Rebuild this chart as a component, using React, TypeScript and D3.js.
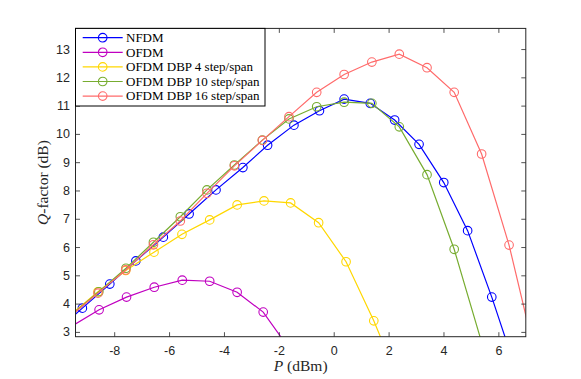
import { useRef, useEffect } from "react";
import { select, axisBottom, axisLeft, axisTop, axisRight, scaleLinear, line } from "d3";

const W = 581;
const H = 379;
const margin = { top: 28.4, right: 55.2, bottom: 42.3, left: 75.5 };
const WIDTH = W - margin.left - margin.right;
const HEIGHT = H - margin.top - margin.bottom;

// data (P in dBm, Q-factor in dB)
const nfdmP = [-10.1, -9.16, -8.16, -7.21, -6.21, -5.27, -4.29, -3.31, -2.41, -1.45, -0.52, 0.38, 1.33, 2.22, 3.11, 4.01, 4.88, 5.76, 6.64];
const nfdmQ = [3.04, 3.84, 4.69, 5.51, 6.35, 7.17, 8.02, 8.81, 9.6, 10.31, 10.82, 11.23, 11.08, 10.49, 9.63, 8.28, 6.58, 4.23, 1.66];

const ofdmP = [-9.55, -8.55, -7.55, -6.54, -5.52, -4.52, -3.52, -2.57, -1.57];
const ofdmQ = [3.2, 3.78, 4.23, 4.58, 4.83, 4.79, 4.4, 3.7, 2.34];

const dbp4P = [-9.6, -8.59, -7.58, -6.55, -5.53, -4.52, -3.52, -2.54, -1.57, -0.55, 0.45, 1.46, 2.46];
const dbp4Q = [3.6, 4.42, 5.17, 5.82, 6.45, 6.96, 7.49, 7.63, 7.56, 6.86, 5.48, 3.39, 1.06];

const dbp10P = [-9.56, -8.56, -7.57, -6.57, -5.59, -4.62, -3.62, -2.6, -1.63, -0.62, 0.38, 1.39, 2.39, 3.4, 4.39, 5.4];
const dbp10Q = [3.6, 4.42, 5.25, 6.17, 7.07, 8.02, 8.9, 9.78, 10.53, 10.96, 11.12, 11.08, 10.25, 8.56, 5.92, 2.6];

const dbp16P = [-9.6, -8.59, -7.58, -6.57, -5.59, -4.62, -3.62, -2.6, -1.63, -0.62, 0.38, 1.39, 2.39, 3.4, 4.39, 5.39, 6.39, 7.39];
const dbp16Q = [3.55, 4.37, 5.19, 6.08, 6.92, 7.9, 8.87, 9.77, 10.61, 11.47, 12.1, 12.54, 12.82, 12.34, 11.47, 9.29, 6.07, 2.0];

const seriesNames = ["NFDM", "OFDM", "OFDM DBP 4 step/span", "OFDM DBP 10 step/span", "OFDM DBP 16 step/span"];
const seriesColors = ["#0000ff", "#c000c0", "#ffd700", "#77ac30", "#ff6b6b"];
const seriesP = [nfdmP, ofdmP, dbp4P, dbp10P, dbp16P];
const seriesQ = [nfdmQ, ofdmQ, dbp4Q, dbp10Q, dbp16Q];

const xTicks = [-8, -6, -4, -2, 0, 2, 4, 6];
const yTicks = [3, 4, 5, 6, 7, 8, 9, 10, 11, 12, 13];

const xDomain = [-9.41, 7.0];
const yDomain = [2.83, 13.73];

const AXIS = "#262626";
const TICK_FONT = "Liberation Sans, Arial, sans-serif";
const SERIF = "Liberation Serif, DejaVu Serif, serif";

function App() {
  const svgRef = useRef<SVGSVGElement>(null);

  useEffect(() => {
    const svg = select(svgRef.current);
    const g = svg.select(".chart");

    const xScale = scaleLinear().domain(xDomain).range([0, WIDTH]);
    const yScale = scaleLinear().domain(yDomain).range([HEIGHT, 0]);

    const styleAxis = (sel: any) => {
      sel.attr("font-family", null).attr("font-size", null);
      sel.select(".domain").remove();
      sel.selectAll(".tick line").attr("stroke", AXIS).attr("stroke-width", 0.8);
      sel.selectAll(".tick text")
        .attr("fill", AXIS)
        .attr("font-family", TICK_FONT)
        .attr("font-size", 12.5);
    };

    // axes (ticks point inward, mirrored on top/right)
    g.select(".x-axis")
      .attr("transform", `translate(0,${HEIGHT})`)
      .call(axisBottom(xScale).tickValues(xTicks).tickFormat(d => String(d)).tickSizeInner(-4.5).tickSizeOuter(0).tickPadding(9.5) as any)
      .call(styleAxis);
    g.select(".x-axis-top")
      .call(axisTop(xScale).tickValues(xTicks).tickSizeInner(-4.5).tickSizeOuter(0).tickFormat(() => "") as any)
      .call(styleAxis);
    g.select(".y-axis")
      .call(axisLeft(yScale).tickValues(yTicks).tickFormat(d => String(d)).tickSizeInner(-4.5).tickSizeOuter(0).tickPadding(5.5) as any)
      .call(styleAxis);
    g.select(".y-axis-right")
      .attr("transform", `translate(${WIDTH},0)`)
      .call(axisRight(yScale).tickValues(yTicks).tickSizeInner(-4.5).tickSizeOuter(0).tickFormat(() => "") as any)
      .call(styleAxis);

    // lines + markers
    const pathGen = line<[number, number]>()
      .x(d => xScale(d[0]))
      .y(d => yScale(d[1]));

    const series = seriesNames.map((name, i) => ({
      name,
      color: seriesColors[i],
      pts: seriesP[i].map((p, j) => [p, seriesQ[i][j]] as [number, number]),
    }));

    const groups = g.select(".lines")
      .selectAll(".series")
      .data(series)
      .join("g")
      .attr("class", "series");

    groups.selectAll("path")
      .data(d => [d])
      .join("path")
      .attr("d", d => pathGen(d.pts))
      .attr("fill", "none")
      .attr("stroke", d => d.color)
      .attr("stroke-width", 1.2);

    groups.selectAll("circle")
      .data(d => d.pts
        .filter(p => p[0] >= xDomain[0] && p[0] <= xDomain[1] && p[1] >= yDomain[0] && p[1] <= yDomain[1])
        .map(p => ({ p, color: d.color })))
      .join("circle")
      .attr("cx", d => xScale(d.p[0]))
      .attr("cy", d => yScale(d.p[1]))
      .attr("r", 4.3)
      .attr("fill", "none")
      .attr("stroke", d => d.color)
      .attr("stroke-width", 1.1);

    // legend
    const legend = g.select(".legend");
    const rowY = (i: number) => 9.3 + i * 14.6;
    const rows = legend.selectAll(".row")
      .data(series)
      .join("g")
      .attr("class", "row")
      .attr("transform", (_, i) => `translate(0,${rowY(i)})`);
    rows.selectAll("line")
      .data(d => [d])
      .join("line")
      .attr("x1", 7.2)
      .attr("x2", 47.2)
      .attr("stroke", d => d.color)
      .attr("stroke-width", 1.2);
    rows.selectAll("circle")
      .data(d => [d])
      .join("circle")
      .attr("cx", 27.2)
      .attr("r", 4.3)
      .attr("fill", "none")
      .attr("stroke", d => d.color)
      .attr("stroke-width", 1.1);
    rows.selectAll("text")
      .data(d => [d])
      .join("text")
      .attr("x", 50.5)
      .attr("dy", "0.33em")
      .attr("font-family", SERIF)
      .attr("font-size", 13)
      .attr("fill", "#000")
      .text(d => d.name);
  }, []);

  return (
    <svg ref={svgRef} width={W} height={H} style={{ position: "absolute", left: 0, top: 0, background: "#fff" }}>
      <defs>
        <clipPath id="plot-clip">
          <rect x={0} y={0} width={WIDTH} height={HEIGHT} />
        </clipPath>
      </defs>
      <g className="chart" transform={`translate(${margin.left},${margin.top})`}>
        <rect width={WIDTH} height={HEIGHT} fill="#fff" />
        <g className="lines" clipPath="url(#plot-clip)" />
        <g className="x-axis" />
        <g className="x-axis-top" />
        <g className="y-axis" />
        <g className="y-axis-right" />
        <rect width={WIDTH} height={HEIGHT} fill="none" stroke={AXIS} strokeWidth={1} />
        <g className="legend">
          <rect x={0} y={0} width={189.5} height={77.6} fill="#fff" stroke="#000" strokeWidth={1} />
        </g>
        <text
          x={WIDTH / 2}
          y={HEIGHT + 34.8}
          textAnchor="middle"
          fontFamily={SERIF}
          fontSize={15.5}
          fill={AXIS}
        >
          <tspan fontStyle="italic">P</tspan> (dBm)
        </text>
        <text
          transform={`translate(${-27.5},${HEIGHT / 2}) rotate(-90)`}
          textAnchor="middle"
          fontFamily={SERIF}
          fontSize={15.5}
          fill={AXIS}
        >
          <tspan fontStyle="italic">Q</tspan>-factor (dB)
        </text>
      </g>
    </svg>
  );
}

export default App;
